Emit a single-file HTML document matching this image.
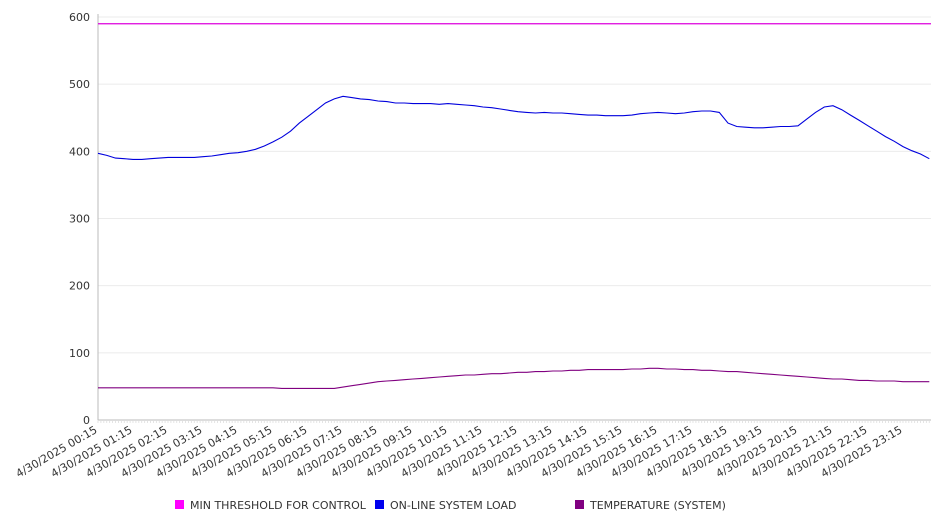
<!DOCTYPE html>
<html><head><meta charset="utf-8"><style>
body{margin:0;background:#fff;font-family:"DejaVu Sans","Liberation Sans",sans-serif;}
</style></head><body>
<svg id="chart" width="946" height="526" xmlns="http://www.w3.org/2000/svg" style="display:block">
<g id="grid"></g>
<g id="axes"></g>
<g id="series"></g>
<g id="legend" font-size="11" fill="#333">
 <rect x="175" y="500" width="9" height="9" fill="#ff00ff"/>
 <text x="190" y="509">MIN THRESHOLD FOR CONTROL</text>
 <rect x="375" y="500" width="9" height="9" fill="#0000ee"/>
 <text x="390" y="509">ON-LINE SYSTEM LOAD</text>
 <rect x="575" y="500" width="9" height="9" fill="#800080"/>
 <text x="590" y="509">TEMPERATURE (SYSTEM)</text>
</g>
</svg>
<script>
const yTicks=[0,100,200,300,400,500,600];
const xLabels=["00:15","01:15","02:15","03:15","04:15","05:15","06:15","07:15","08:15","09:15","10:15","11:15","12:15","13:15","14:15","15:15","16:15","17:15","18:15","19:15","20:15","21:15","22:15","23:15"];
const threshold=590;
const load=[397,394,390,389,388,388,389,390,391,391,391,391,392,393,395,397,398,400,403,408,414,421,430,442,452,462,472,478,482,480,478,477,475,474,472,472,471,471,471,470,471,470,469,468,466,465,463,461,459,458,457,458,457,457,456,455,454,454,453,453,453,454,456,457,458,457,456,457,459,460,460,458,442,437,436,435,435,436,437,437,438,448,458,466,468,462,454,446,438,430,422,415,407,401,396,389];
const temp=[48,48,48,48,48,48,48,48,48,48,48,48,48,48,48,48,48,48,48,48,48,47,47,47,47,47,47,47,49,51,53,55,57,58,59,60,61,62,63,64,65,66,67,67,68,69,69,70,71,71,72,72,73,73,74,74,75,75,75,75,75,76,76,77,77,76,76,75,75,74,74,73,72,72,71,70,69,68,67,66,65,64,63,62,61,61,60,59,59,58,58,58,57,57,57,57];
const NS='http://www.w3.org/2000/svg';
const X0=98,X1=931,Y0=420,Y1=17;
const y=v=>Y0-(v/600)*(Y0-Y1);
const hourPx=35;
const xIdx=i=>X0+i*(hourPx/4);
function mk(t,a,p){const e=document.createElementNS(NS,t);for(const k in a)e.setAttribute(k,a[k]);p.appendChild(e);return e;}
const grid=document.getElementById('grid'),axes=document.getElementById('axes'),series=document.getElementById('series');
yTicks.forEach(v=>{
 if(v>0){const l=mk('line',{x1:X0,x2:X1,y1:y(v),y2:y(v),stroke:'#ebebeb'},grid);
 
 }
 const t=mk('text',{x:90,y:y(v)+4,'text-anchor':'end','font-size':11,fill:'#333'},axes);t.textContent=v;
 
 
});
const ya=mk('line',{x1:X0,x2:X0,y1:Y1-3,y2:Y0,stroke:'#bbb'},axes);


const xa=mk('line',{x1:X0,x2:X1,y1:Y0,y2:Y0,stroke:'#bbb'},axes);


for(let k=0;k<=285;k++){const xx=X0+k*hourPx/12;if(xx>X1)break;mk('line',{x1:xx,x2:xx,y1:Y0,y2:Y0+3,stroke:'#ddd','stroke-width':0.8},axes);}
xLabels.forEach((s,i)=>{const xx=X0+i*hourPx;
 const t=mk('text',{x:xx,y:Y0+12,'text-anchor':'end','font-size':11,fill:'#333',transform:`rotate(-30 ${xx} ${Y0+12})`},axes);
 t.textContent='4/30/2025 '+s;
 
 
});
const th=mk('line',{x1:X0,x2:X1,y1:y(threshold),y2:y(threshold),stroke:'#dd00dd','stroke-width':1.2},series);


function path(arr,col,name){const d=arr.map((v,i)=>(i?'L':'M')+xIdx(i).toFixed(1)+','+y(v).toFixed(1)).join('');
 const p=mk('path',{d:d,fill:'none',stroke:col,'stroke-width':1.1},series);
 
 }
path(load,'#0000dd','load-line');
path(temp,'#800080','temperature-line');
</script>
</body></html>
